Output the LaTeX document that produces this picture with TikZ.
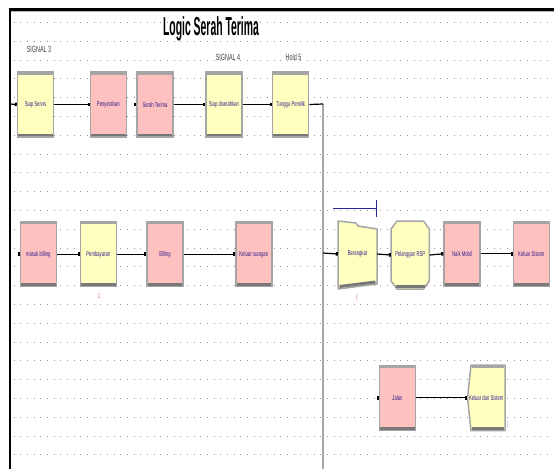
\documentclass[tikz,border=0pt]{standalone}
\usepackage{fontspec}
\setmainfont{Liberation Sans}
\newfontfamily\modfont[FakeStretch=0.6]{Liberation Sans}
\newfontfamily\titlefont[FakeStretch=0.4]{Liberation Sans}
\usetikzlibrary{arrows.meta}
\definecolor{modyellow}{RGB}{255,255,192}
\definecolor{modpink}{RGB}{255,192,192}
\definecolor{modedge}{RGB}{165,165,165}
\definecolor{modshade}{RGB}{120,120,120}
\definecolor{modtext}{RGB}{50,30,140}
\definecolor{griddot}{RGB}{150,150,150}
\definecolor{cntred}{RGB}{210,80,80}
\definecolor{routeblue}{RGB}{40,40,150}

\begin{document}
\begin{tikzpicture}[x=1pt,y=-1pt]
    \tikzset{%
      module/.style={rectangle, draw=modedge, line width=1.5pt, inner sep=0pt,
        minimum width=36pt, minimum height=65pt, text=modtext,
        font=\modfont\fontsize{7}{8}\selectfont,
        path picture={
          \fill[modshade] (path picture bounding box.south west) rectangle
            ([yshift=3.5pt]path picture bounding box.south east);
          \fill[modedge] (path picture bounding box.north west) rectangle
            ([yshift=-2.5pt]path picture bounding box.north east);}},
      ymod/.style={module, fill=modyellow},
      pmod/.style={module, fill=modpink},
      shapelabel/.style={rectangle, inner sep=0pt, text=modtext,
        font=\modfont\fontsize{7}{8}\selectfont},
      outline/.style={draw=modedge, line width=1.5pt, fill=modyellow, line join=round},
      link/.style={line width=1.2pt, -{Square[length=2pt,width=3.5pt]}},
      entry/.style={fill=black},
      tag/.style={inner sep=0pt, font=\modfont\fontsize{9}{9}\selectfont, text=black!75},
      counter/.style={inner sep=0pt, font=\modfont\fontsize{7}{7}\selectfont},
      griddots/.style={griddot, line width=1pt, dash pattern=on 1pt off 5.67pt},
    }
    \useasboundingbox (0,0) rectangle (554,469);

    % dotted background
    \foreach \r in {0,...,23}
      \draw[griddots] (13.5,{22.5+18.8*\r}) -- (554,{22.5+18.8*\r});

    % frame
    \draw[black!30, line width=1pt] (11,11.5) -- (554,11.5);
    \draw[line width=2.5pt] (10,469) -- (10,9.5) -- (554,9.5);

    \node[anchor=base, inner sep=0pt, font=\titlefont\bfseries\fontsize{26}{26}\selectfont]
      (title) at (211,35) {Logic Serah Terima};

    % first line: service up to waiting for the owner
    \node[ymod] (ss) at (35.5,104.5) {Siap Servis};
    \node[pmod] (pny) at (108.3,104.5) {Penyerahan};
    \node[pmod] (srt) at (155,104.5) {Serah Terima};
    \node[ymod] (sdr) at (224,104.5) {Siap diserahkan};
    \node[ymod] (tgp) at (290.7,104.5) {Tunggu Pemilik};

    \node[tag] (sig3) at (39,49.5) {SIGNAL 3};
    \node[tag] (sig4) at (228,57) {SIGNAL 4};
    \node[tag] (hold5) at (293.5,57) {Hold 5};

    \coordinate (ssin) at (10,104);
    \coordinate (bend) at (323,104);
    \coordinate (split) at (323,253);
    \coordinate (pgend) at (323,469);

    \draw[link] (ssin) -- (ss.west);
    \draw[link] (ss.east) -- (pny.west);
    \fill[entry] ([xshift=-2pt,yshift=-1.75pt]srt.west) rectangle ([yshift=1.75pt]srt.west);
    \draw[link] (srt.east) -- (sdr.west);
    \draw[link] (sdr.east) -- (tgp.west);

    % page break line
    \draw[modedge, line width=2pt] (bend) -- (pgend);
    \draw[line width=1.2pt] (tgp.east) -- (bend);

    % second line: billing
    \node[pmod] (msb) at (38.3,254.2) {masuk billing};
    \node[ymod] (pmb) at (98.3,254.2) {Pembayaran};
    \node[pmod] (bil) at (165,254.2) {Billing};
    \node[pmod] (klr) at (253.8,254.2) {Keluar ruangan};
    \node[counter, text=cntred] (pmbcnt) at (99,296) {1};

    \fill[entry] ([xshift=-2pt,yshift=-1.75pt]msb.west) rectangle ([yshift=1.75pt]msb.west);
    \draw[link] (msb.east) -- (pmb.west);
    \draw[link] (pmb.east) -- (bil.west);
    \draw[link] (bil.east) -- (klr.west);

    % departure
    \filldraw[outline] (338,221) -- (356,223) -- (358,226) -- (377,229)
      -- (377,284) -- (338,289) -- cycle;
    \draw[modshade, line width=3pt] (339.5,286.5) -- (375.5,282);
    \node[shapelabel, minimum width=39pt, minimum height=66pt] (brk) at (357.5,254) {Berangkat};
    \node[counter, text=cntred] (brkcnt) at (357,298) {(};
    \draw[routeblue, line width=1pt] (333,208.3) -- (376,208.3);
    \draw[routeblue, line width=0.8pt] (376,199.5) -- (376,216.5);

    \filldraw[outline] (397,221) -- (423.5,221) -- (429.3,229) -- (429.3,281)
      -- (423.5,289) -- (397,289) -- (391,281) -- (391,229) -- cycle;
    \draw[modshade, line width=3pt] (396,286.8) -- (424.5,286.8);
    \node[shapelabel, minimum width=38.3pt, minimum height=68pt] (rsp) at (410.2,255) {Pelanggan RSP};

    \node[pmod] (nkm) at (462,253.8) {Naik Mobil};
    \node[pmod] (kls) at (531.3,253.8) {Keluar Sistem};

    \draw[link] (split) -- (brk.west);
    \draw[link] (brk.east) -- (rsp.west);
    \draw[link] (rsp.east) -- (nkm.west);
    \draw[link] (nkm.east) -- (kls.west);

    % third line: leaving on the road
    \node[pmod] (jln) at (397.5,397.8) {Jalan};
    \filldraw[outline] (471,365) -- (505,365) -- (505,430.7) -- (471,430.7)
      -- (467.5,398) -- cycle;
    \draw[modshade, line width=3pt] (471.5,428.5) -- (504,428.5);
    \draw[modedge, line width=2.5pt] (471.5,366.5) -- (504,366.5);
    \node[shapelabel, minimum width=37.5pt, minimum height=65.7pt] (kds) at (486.2,397.8) {Keluar dari Sistem};
    \node[counter, text=routeblue!60] (kdscnt) at (507.5,425) {|};

    \fill[entry] ([xshift=-2pt,yshift=-1.75pt]jln.west) rectangle ([yshift=1.75pt]jln.west);
    \draw[link] (jln.east) -- (kds.west);
  \end{tikzpicture}
\end{document}
